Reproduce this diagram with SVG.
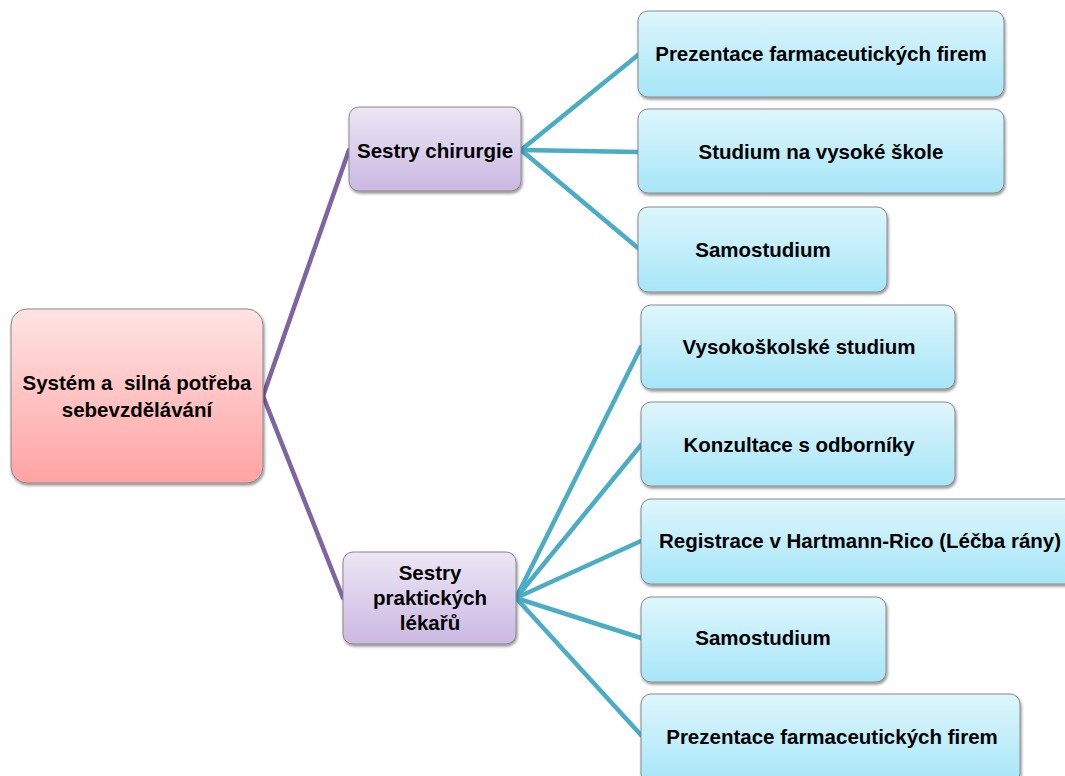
<svg xmlns="http://www.w3.org/2000/svg" width="1065" height="776" viewBox="0 0 1065 776">
  <defs>
    <linearGradient id="gRoot" x1="0" y1="0" x2="0" y2="1">
      <stop offset="0" stop-color="#ffe3e3"/>
      <stop offset="1" stop-color="#ffa3a3"/>
    </linearGradient>
    <linearGradient id="gMid" x1="0" y1="0" x2="0" y2="1">
      <stop offset="0" stop-color="#ece6f5"/>
      <stop offset="1" stop-color="#cbb8e2"/>
    </linearGradient>
    <linearGradient id="gLeaf" x1="0" y1="0" x2="0" y2="1">
      <stop offset="0" stop-color="#def6fc"/>
      <stop offset="1" stop-color="#a6e6f8"/>
    </linearGradient>
    <filter id="shadow" x="-10%" y="-10%" width="125%" height="130%">
      <feGaussianBlur in="SourceAlpha" stdDeviation="1.6"/>
      <feOffset dx="1" dy="2" result="b"/>
      <feComponentTransfer><feFuncA type="linear" slope="0.45"/></feComponentTransfer>
      <feMerge><feMergeNode/><feMergeNode in="SourceGraphic"/></feMerge>
    </filter>
  </defs>
  <style>
    .box { stroke: #8a8a8a; stroke-width: 1; filter: url(#shadow); }
    .root { fill: url(#gRoot); }
    .mid { fill: url(#gMid); }
    .leaf { fill: url(#gLeaf); }
    .t { font-family: "Liberation Sans", Arial, sans-serif; font-weight: bold; font-size: 20.5px; fill: #000; text-anchor: middle; white-space: pre; }
    .purple { stroke: #8064a2; stroke-width: 4.5; fill: none; }
    .cyan { stroke: #4bacc6; stroke-width: 4.5; fill: none; }
  </style>
  <rect width="1065" height="776" fill="#ffffff"/>

  <!-- connectors -->
  <g id="connectors" stroke-linecap="round">
    <line class="purple" x1="263" y1="396" x2="349" y2="150"/>
    <line class="purple" x1="263" y1="396" x2="343" y2="598"/>
    <line class="cyan" x1="521" y1="150" x2="638" y2="55"/>
    <line class="cyan" x1="521" y1="150" x2="638" y2="152"/>
    <line class="cyan" x1="521" y1="150" x2="638" y2="248"/>
    <line class="cyan" x1="516" y1="598" x2="641" y2="347"/>
    <line class="cyan" x1="516" y1="598" x2="641" y2="445"/>
    <line class="cyan" x1="516" y1="598" x2="641" y2="541"/>
    <line class="cyan" x1="516" y1="598" x2="641" y2="638"/>
    <line class="cyan" x1="516" y1="598" x2="641" y2="735"/>
  </g>

  <g id="root">
    <rect class="box root" x="11" y="309" width="252" height="174" rx="16"/>
    <text class="t" x="137" y="390" xml:space="preserve">Systém a  silná potřeba</text>
    <text class="t" x="137" y="417">sebevzdělávání</text>
  </g>

  <g id="chirurgie">
    <rect class="box mid" x="349" y="107" width="172" height="84" rx="10"/>
    <text class="t" x="435" y="158">Sestry chirurgie</text>
  </g>

  <g id="prakticti">
    <rect class="box mid" x="343" y="552" width="173" height="92" rx="10"/>
    <text class="t" x="430" y="580">Sestry</text>
    <text class="t" x="430" y="605">praktických</text>
    <text class="t" x="430" y="630">lékařů</text>
  </g>

  <g id="c1">
    <rect class="box leaf" x="638" y="11" width="366" height="86" rx="10"/>
    <text class="t" x="821" y="61">Prezentace farmaceutických firem</text>
  </g>
  <g id="c2">
    <rect class="box leaf" x="638" y="109" width="366" height="84" rx="10"/>
    <text class="t" x="821" y="159">Studium na vysoké škole</text>
  </g>
  <g id="c3">
    <rect class="box leaf" x="638" y="207" width="249" height="85" rx="10"/>
    <text class="t" x="763" y="257">Samostudium</text>
  </g>

  <g id="p1">
    <rect class="box leaf" x="641" y="305" width="314" height="84" rx="10"/>
    <text class="t" x="799" y="354">Vysokoškolské studium</text>
  </g>
  <g id="p2">
    <rect class="box leaf" x="641" y="402" width="314" height="84" rx="10"/>
    <text class="t" x="799" y="452">Konzultace s odborníky</text>
  </g>
  <g id="p3">
    <rect class="box leaf" x="641" y="499" width="440" height="85" rx="10"/>
    <text class="t" x="860" y="548">Registrace v Hartmann-Rico (Léčba rány)</text>
  </g>
  <g id="p4">
    <rect class="box leaf" x="641" y="597" width="245" height="85" rx="10"/>
    <text class="t" x="763" y="645">Samostudium</text>
  </g>
  <g id="p5">
    <rect class="box leaf" x="641" y="694" width="379" height="90" rx="10"/>
    <text class="t" x="832" y="744">Prezentace farmaceutických firem</text>
  </g>
</svg>
